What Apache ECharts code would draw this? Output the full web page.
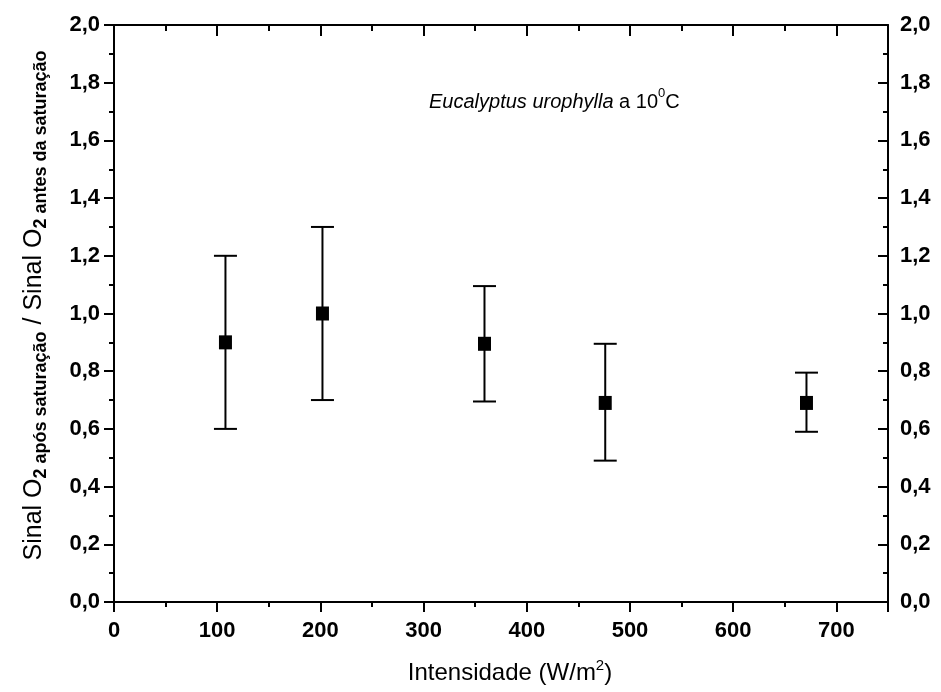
<!DOCTYPE html>
<html>
<head>
<meta charset="utf-8">
<title>Eucalyptus urophylla a 10°C</title>
<script src="https://cdn.jsdelivr.net/npm/echarts@6/dist/echarts.min.js"></script>
<style>
  html, body { margin: 0; padding: 0; background: #fff; }
  #chart { width: 941px; height: 692px; }
</style>
</head>
<body>
<div id="chart"></div>
<script>
// Light intensity (W/m2) of each measurement
const intensity = [108, 202, 359, 476, 671];
// Mean ratio of O2 signal after / before saturation
const ratio = [0.90, 1.00, 0.895, 0.69, 0.69];
// Lower and upper ends of the error bars
const ratioLow = [0.60, 0.70, 0.695, 0.49, 0.59];
const ratioHigh = [1.20, 1.30, 1.095, 0.895, 0.795];

const FONT = '"Liberation Sans", Arial, Helvetica, sans-serif';
const fmtComma = v => v.toFixed(1).replace('.', ',');

const points = intensity.map((x, i) => [x, ratio[i]]);
const bars = intensity.map((x, i) => [x, ratioLow[i], ratioHigh[i]]);

const chart = echarts.init(document.getElementById('chart'), null, { renderer: 'canvas' });

const lineStyle = { color: '#000', width: 2 };

const option = {
  backgroundColor: '#fff',
  animation: false,
  title: {
    left: 424,
    top: 82,
    text: '{i|Eucalyptus urophylla}{n| a 10}{p|0}{n|C}',
    textStyle: {
      fontFamily: FONT,
      fontWeight: 'normal',
      rich: {
        i: { fontFamily: FONT, fontSize: 20, fontStyle: 'italic', fontWeight: 'normal', color: '#000', lineHeight: 30 },
        n: { fontFamily: FONT, fontSize: 20, fontWeight: 'normal', color: '#000', lineHeight: 30 },
        p: { fontFamily: FONT, fontSize: 13, fontWeight: 'normal', color: '#000', lineHeight: 14, verticalAlign: 'top' }
      }
    }
  },
  grid: { left: 114, right: 53, top: 25, bottom: 90, containLabel: false },
  xAxis: [
    {
      type: 'value', position: 'bottom', min: 0, max: 750, interval: 100,
      axisLine: { show: true, onZero: false, lineStyle },
      axisTick: { show: true, inside: false, length: 10, lineStyle },
      minorTick: { show: true, splitNumber: 2, length: 5, lineStyle },
      splitLine: { show: false },
      axisLabel: {
        margin: 18, showMaxLabel: false,
        fontFamily: FONT, fontSize: 22, fontWeight: 'bold', color: '#000'
      },
      name: '{m|Intensidade (W/m}{p|2}{m|)}',
      nameLocation: 'middle',
      nameGap: 56,
      nameTextStyle: {
        padding: [0, 0, 0, 18],
        rich: {
          m: { fontFamily: FONT, fontSize: 24, color: '#000', lineHeight: 30 },
          p: { fontFamily: FONT, fontSize: 15, color: '#000', lineHeight: 15, verticalAlign: 'top' }
        }
      }
    },
    {
      type: 'value', position: 'top', min: 0, max: 750, interval: 100,
      axisLine: { show: true, onZero: false, lineStyle },
      axisTick: { show: true, inside: true, length: 11, lineStyle },
      minorTick: { show: true, splitNumber: 2, length: 6, lineStyle },
      splitLine: { show: false },
      axisLabel: { show: false }
    }
  ],
  yAxis: [
    {
      type: 'value', position: 'left', min: 0, max: 2, interval: 0.2,
      axisLine: { show: true, onZero: false, lineStyle },
      axisTick: { show: true, inside: false, length: 10, lineStyle },
      minorTick: { show: true, splitNumber: 2, length: 5, lineStyle },
      splitLine: { show: false },
      axisLabel: {
        margin: 14, formatter: fmtComma,
        fontFamily: FONT, fontSize: 22, fontWeight: 'bold', color: '#000'
      },
      name: '{m|Sinal O}{s|2 após saturação}{m| / Sinal O}{s|2 antes da saturação}',
      nameLocation: 'middle',
      nameRotate: 90,
      nameGap: 64,
      nameTextStyle: {
        padding: [0, 0, 0, 16],
        rich: {
          m: { fontFamily: FONT, fontSize: 25, color: '#000', lineHeight: 32 },
          s: { fontFamily: FONT, fontSize: 18, fontWeight: 'bold', color: '#000', lineHeight: 18, verticalAlign: 'bottom' }
        }
      }
    },
    {
      type: 'value', position: 'right', min: 0, max: 2, interval: 0.2,
      axisLine: { show: true, onZero: false, lineStyle },
      axisTick: { show: true, inside: true, length: 10, lineStyle },
      minorTick: { show: true, splitNumber: 2, length: 5, lineStyle },
      splitLine: { show: false },
      axisLabel: {
        margin: 12, formatter: fmtComma,
        fontFamily: FONT, fontSize: 22, fontWeight: 'bold', color: '#000'
      }
    }
  ],
  series: [
    {
      type: 'custom',
      xAxisIndex: 0, yAxisIndex: 0,
      data: bars,
      encode: { x: 0, y: [1, 2] },
      renderItem: function (params, api) {
        const x = api.value(0);
        const lo = api.coord([x, api.value(1)]);
        const hi = api.coord([x, api.value(2)]);
        const hw = 11.5;
        const st = { stroke: '#000', lineWidth: 2 };
        return {
          type: 'group',
          children: [
            { type: 'line', shape: { x1: lo[0], y1: lo[1], x2: hi[0], y2: hi[1] }, style: st },
            { type: 'line', shape: { x1: lo[0] - hw, y1: lo[1], x2: lo[0] + hw, y2: lo[1] }, style: st },
            { type: 'line', shape: { x1: hi[0] - hw, y1: hi[1], x2: hi[0] + hw, y2: hi[1] }, style: st }
          ]
        };
      },
      z: 2
    },
    {
      type: 'scatter',
      xAxisIndex: 0, yAxisIndex: 0,
      data: points,
      symbol: 'rect',
      symbolSize: [13, 14],
      itemStyle: { color: '#000', opacity: 1 },
      z: 3
    }
  ]
};

chart.setOption(option);
</script>
</body>
</html>
